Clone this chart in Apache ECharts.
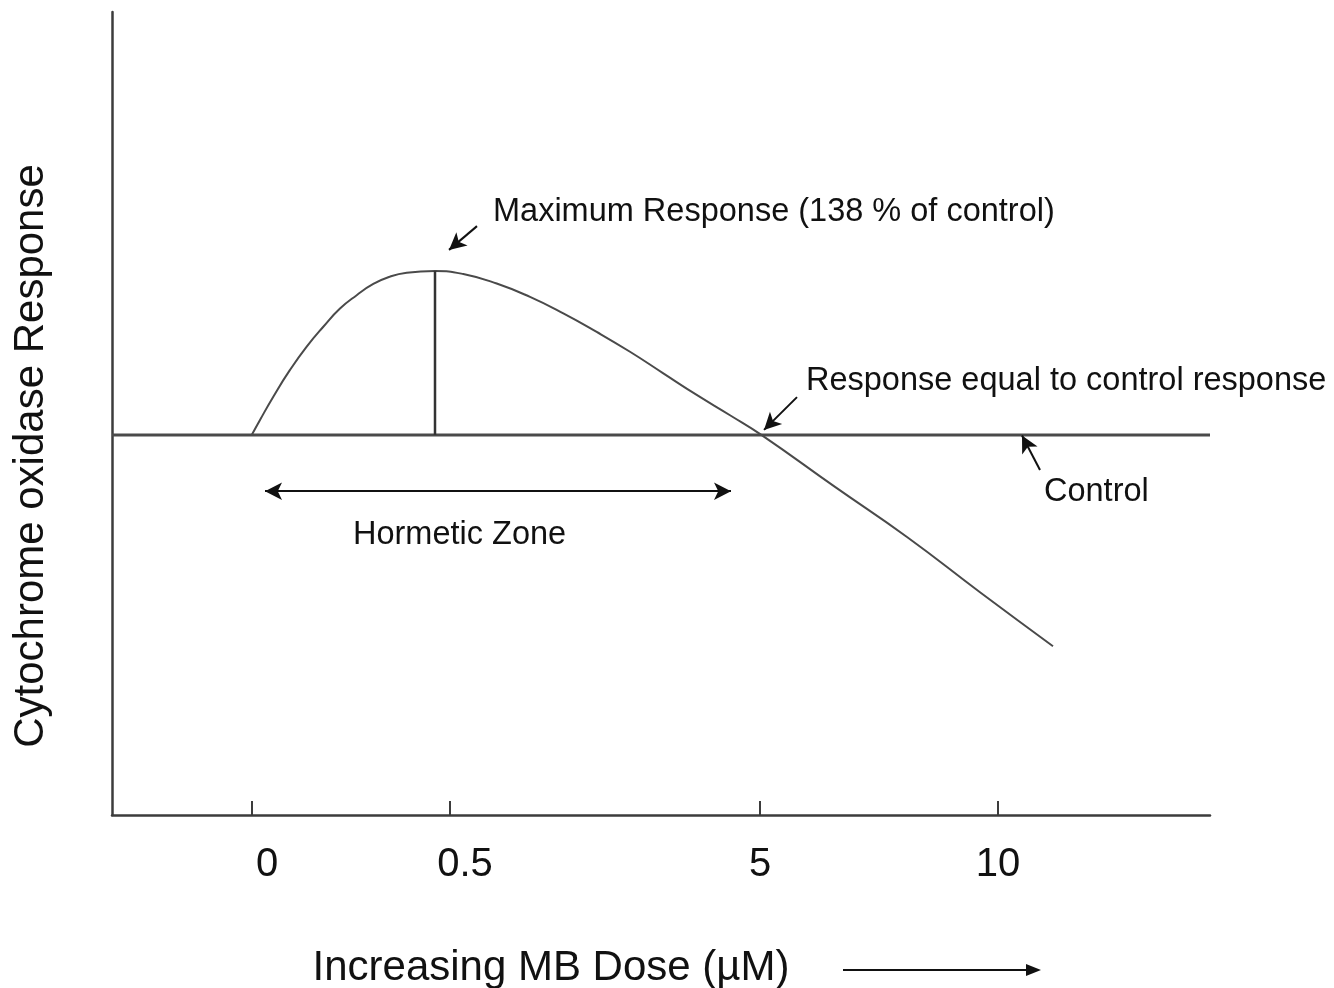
<!DOCTYPE html>
<html>
  <head>
    <meta charset="utf-8">
    <title>Hormetic dose response</title>
    <script src="https://cdn.jsdelivr.net/npm/echarts@6/dist/echarts.min.js"></script>
    <style>
      html, body { margin: 0; padding: 0; background: #fff; }
    </style>
  </head>
  <body>
    <div id="main" style="width:1334px;height:988px;"></div>
    <script>
// x is position along the dose axis (arbitrary units), y is % of control
var tickPos = [14, 33.8, 64.8, 88.6];
var tickLabels = ['0', '0.5', '5', '10'];

var curve = [
  [13.97, 100], [14.8, 103.5], [16.13, 108.9], [17.8, 115.1], [19.47, 120.5],
  [21.13, 125.1], [22.8, 129.3], [24.47, 132.4], [26.13, 135.0], [27.8, 136.7],
  [29.47, 137.6], [32.3, 138], [35.13, 137.3], [38.47, 135.1], [41.8, 132.0],
  [45.13, 128.2], [48.47, 123.9], [51.8, 119.3], [55.13, 114.3], [58.47, 109.3],
  [61.8, 104.6], [64.97, 100], [72.3, 88.0], [79.5, 76.4], [86.8, 63.6],
  [94.1, 51.1]
];
var control = [[0, 100], [109.8, 100]];
var peakLine = [[32.3, 100], [32.3, 138]];

// annotation arrows: [tail, head]
var arrowMax = [[36.5, 148.4], [33.7, 142.9]];
var arrowEqual = [[68.5, 108.8], [65.2, 101.2]];
var arrowControl = [[92.8, 91.9], [91.0, 99.9]];
var zoneArrow = [[15.3, 87.0], [61.9, 87.0]];

var font = '"Liberation Sans", Arial, sans-serif';
var ink = '#111';

var myChart = echarts.init(document.getElementById('main'));

myChart.setOption({
  animation: false,
  grid: { left: 112, right: 124, top: 12, bottom: 173 },
  xAxis: {
    type: 'value',
    min: 0,
    max: 109.8,
    splitLine: { show: false },
    axisLine: { lineStyle: { color: '#3c3c3c', width: 2.5 } },
    axisTick: {
      customValues: tickPos,
      inside: true,
      length: 14,
      lineStyle: { color: '#3c3c3c', width: 2 }
    },
    axisLabel: {
      customValues: tickPos,
      margin: 30,
      fontSize: 40,
      fontFamily: font,
      color: ink,
      formatter: function (v) {
        var i = tickPos.indexOf(v);
        var t = i >= 0 ? tickLabels[i] : '';
        return i < 2 ? '{s|' + t + '}' : t;
      },
      rich: {
        s: { fontSize: 40, fontFamily: font, color: ink, padding: [0, 0, 0, 30] }
      }
    }
  },
  yAxis: {
    type: 'value',
    min: 12,
    max: 198,
    splitLine: { show: false },
    axisTick: { show: false },
    axisLabel: { show: false },
    axisLine: { show: true, lineStyle: { color: '#3c3c3c', width: 2.5 } }
  },
  series: [
    {
      type: 'line',
      data: control,
      symbol: 'none',
      lineStyle: { color: '#4a4a4a', width: 3 }
    },
    {
      type: 'line',
      data: curve,
      smooth: 0.5,
      symbol: 'none',
      lineStyle: { color: '#4a4a4a', width: 2 }
    },
    {
      type: 'line',
      data: peakLine,
      symbol: 'none',
      lineStyle: { color: '#333', width: 2.5 },
      markLine: {
        silent: true,
        symbol: ['none', 'arrow'],
        symbolSize: [13, 17],
        label: { show: false },
        lineStyle: { color: '#111', width: 2, type: 'solid' },
        data: [
          [{ coord: arrowMax[0] }, { coord: arrowMax[1] }],
          [{ coord: arrowEqual[0] }, { coord: arrowEqual[1] }],
          [{ coord: arrowControl[0] }, { coord: arrowControl[1] }],
          [{ coord: zoneArrow[0], symbol: 'arrow' }, { coord: zoneArrow[1] }]
        ]
      }
    }
  ],
  graphic: [
    {
      type: 'text', x: 31, y: 456, rotation: Math.PI / 2,
      style: { text: 'Cytochrome oxidase Response', font: '42px ' + font, fill: ink, align: 'center', verticalAlign: 'middle' }
    },
    {
      type: 'text', x: 551, y: 968,
      style: { text: 'Increasing MB Dose (\u00b5M)', font: '42px ' + font, fill: ink, align: 'center', verticalAlign: 'middle' }
    },
    {
      type: 'line', shape: { x1: 843, y1: 970, x2: 1028, y2: 970 },
      style: { stroke: '#111', lineWidth: 2 }
    },
    {
      type: 'polygon', shape: { points: [[1041, 970], [1026, 964], [1026, 976]] },
      style: { fill: '#111' }
    },
    {
      type: 'text', x: 493, y: 212,
      style: { text: 'Maximum Response (138 % of control)', font: '32.5px ' + font, fill: ink, verticalAlign: 'middle' }
    },
    {
      type: 'text', x: 806, y: 381,
      style: { text: 'Response equal to control response', font: '32.5px ' + font, fill: ink, verticalAlign: 'middle' }
    },
    {
      type: 'text', x: 1044, y: 492,
      style: { text: 'Control', font: '32.5px ' + font, fill: ink, verticalAlign: 'middle' }
    },
    {
      type: 'text', x: 353, y: 535,
      style: { text: 'Hormetic Zone', font: '32.5px ' + font, fill: ink, verticalAlign: 'middle' }
    }
  ]
});
    </script>
  </body>
</html>
